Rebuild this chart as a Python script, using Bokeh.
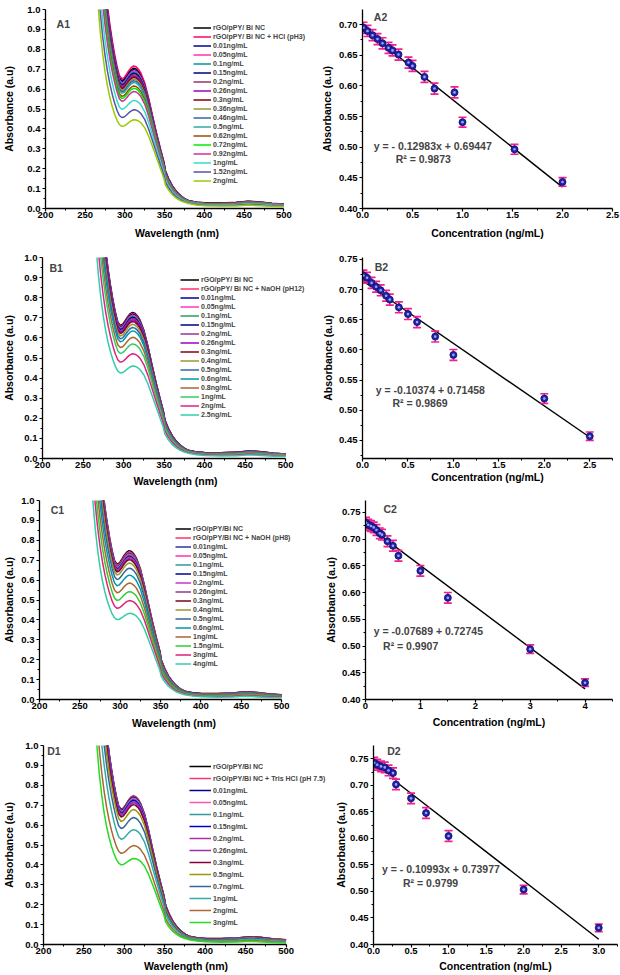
import numpy as np
from bokeh.plotting import figure
from bokeh.layouts import column, row
from bokeh.models import Legend, LegendItem, FixedTicker, NumeralTickFormatter, Range1d, Label
from bokeh.embed import file_html
from bokeh.resources import INLINE

FONT = "Liberation Sans"

# ---------------- spectra: wavelength grid and two traced reference traces (top / bottom of A1)
WL = [260, 263, 266, 269, 272, 275, 278, 281, 284, 287, 290, 293, 296, 299, 302, 305, 308, 311, 314,
      317, 320, 325, 330, 335, 340, 345, 349, 351, 355, 360, 365, 370, 375, 380, 390, 400, 420, 440,
      455, 470, 485, 500]
TRACE_HI = [2.0, 1.78, 1.58, 1.40, 1.25, 1.13, 1.02, 0.925, 0.845, 0.775, 0.715, 0.668, 0.652, 0.658,
            0.675, 0.694, 0.709, 0.716, 0.712, 0.700, 0.681, 0.630, 0.552, 0.462, 0.375, 0.295, 0.235,
            0.190, 0.150, 0.112, 0.085, 0.065, 0.050, 0.040, 0.032, 0.029, 0.028, 0.031, 0.037, 0.033,
            0.026, 0.022]
TRACE_LO = [1.45, 1.22, 1.03, 0.885, 0.775, 0.685, 0.615, 0.558, 0.512, 0.474, 0.443, 0.422, 0.413,
            0.415, 0.423, 0.433, 0.441, 0.446, 0.445, 0.440, 0.431, 0.405, 0.362, 0.308, 0.252, 0.196,
            0.152, 0.118, 0.092, 0.068, 0.051, 0.039, 0.031, 0.025, 0.018, 0.014, 0.012, 0.013, 0.017,
            0.014, 0.011, 0.010]
PEAK_HI = 0.716
PEAK_LO = 0.446

# ---------------- Panel A
A1_labels = ["rGO/pPY/ Bi NC", "rGO/pPY/ Bi NC + HCl (pH3)", "0.01ng/mL", "0.05ng/mL", "0.1ng/mL",
             "0.15ng/mL", "0.2ng/mL", "0.26ng/mL", "0.3ng/mL", "0.36ng/mL", "0.46ng/mL", "0.5ng/mL",
             "0.62ng/mL", "0.72ng/mL", "0.92ng/mL", "1ng/mL", "1.52ng/mL", "2ng/mL"]
A1_peaks = [0.705, 0.716, 0.698, 0.692, 0.686, 0.680, 0.673, 0.666, 0.659, 0.651, 0.642, 0.633,
            0.616, 0.604, 0.588, 0.543, 0.496, 0.446]
A1_colors = ["#000000", "#FF0066", "#0000A0", "#FF33AA", "#009999", "#000080", "#993366", "#9900CC",
             "#800000", "#999933", "#3366AA", "#33AAAA", "#994C00", "#00EE00", "#CC3399", "#33DDCC",
             "#5555AA", "#99CC00"]
A2_conc = [0.01, 0.05, 0.1, 0.15, 0.2, 0.26, 0.3, 0.36, 0.46, 0.5, 0.62, 0.72, 0.92, 1.0, 1.52, 2.0]
A2_abs = [0.6947, 0.6895, 0.6826, 0.6763, 0.6694, 0.662, 0.6578, 0.651, 0.638, 0.6325, 0.6146,
          0.5956, 0.5893, 0.5408, 0.4965, 0.4433]
A2_err = [0.009, 0.009, 0.009, 0.009, 0.009, 0.009, 0.009, 0.009, 0.009, 0.009, 0.009, 0.009,
          0.009, 0.008, 0.008, 0.007]
A2_fit = (-0.12983, 0.69447, 0.0, 2.0)

# ---------------- Panel B
B1_labels = ["rGO/pPY/ Bi NC", "rGO/pPY/ Bi NC + NaOH (pH12)", "0.01ng/mL", "0.05ng/mL", "0.1ng/mL",
             "0.15ng/mL", "0.2ng/mL", "0.26ng/mL", "0.3ng/mL", "0.4ng/mL", "0.5ng/mL", "0.6ng/mL",
             "0.8ng/mL", "1ng/mL", "2ng/mL", "2.5ng/mL"]
B1_peaks = [0.727, 0.722, 0.718, 0.713, 0.708, 0.703, 0.697, 0.690, 0.682, 0.668, 0.652, 0.635,
            0.603, 0.570, 0.521, 0.460]
B1_colors = ["#000000", "#FF3366", "#000099", "#FF33CC", "#339966", "#000080", "#993399", "#9900CC",
             "#800020", "#999933", "#3366AA", "#0099AA", "#AA6633", "#33CC66", "#DD2288", "#33CCAA"]
B2_conc = [0.01, 0.05, 0.1, 0.15, 0.2, 0.26, 0.3, 0.4, 0.5, 0.6, 0.8, 1.0, 2.0, 2.5]
B2_abs = [0.7234, 0.7196, 0.7111, 0.7047, 0.6988, 0.6898, 0.6834, 0.6706, 0.6594, 0.6461, 0.6221,
          0.5917, 0.5193, 0.4569]
B2_err = [0.009, 0.009, 0.009, 0.009, 0.009, 0.009, 0.009, 0.009, 0.009, 0.009, 0.009, 0.009,
          0.008, 0.007]
B2_fit = (-0.10374, 0.71458, 0.0, 2.5)

# ---------------- Panel C
C1_labels = ["rGO/pPY/Bi NC", "rGO/pPY/Bi NC + NaOH (pH8)", "0.01ng/mL", "0.05ng/mL", "0.1ng/mL",
             "0.15ng/mL", "0.2ng/mL", "0.26ng/mL", "0.3ng/mL", "0.4ng/mL", "0.5ng/mL", "0.6ng/mL",
             "1ng/mL", "1.5ng/mL", "3ng/mL", "4ng/mL"]
C1_peaks = [0.748, 0.742, 0.735, 0.730, 0.725, 0.720, 0.715, 0.710, 0.703, 0.686, 0.660, 0.625,
            0.585, 0.542, 0.497, 0.433]
C1_colors = ["#000000", "#FF3366", "#333399", "#FF33AA", "#339999", "#000099", "#CC33CC", "#993399",
             "#800020", "#999933", "#336699", "#0099AA", "#AA6633", "#33CC33", "#DD2277", "#33CCAA"]
C2_conc = [0.01, 0.05, 0.1, 0.15, 0.2, 0.26, 0.3, 0.4, 0.5, 0.6, 1.0, 1.5, 3.0, 4.0]
C2_abs = [0.7303, 0.7266, 0.7242, 0.7217, 0.7168, 0.7106, 0.7082, 0.6959, 0.6873, 0.6688, 0.6405,
          0.590, 0.4941, 0.4314]
C2_err = [0.010, 0.010, 0.010, 0.010, 0.010, 0.010, 0.010, 0.010, 0.010, 0.010, 0.010, 0.010,
          0.008, 0.007]
C2_fit = (-0.07689, 0.72745, 0.0, 4.0)

# ---------------- Panel D
D1_labels = ["rGO/pPY/Bi NC", "rGO/pPY/Bi NC + Tris HCl (pH 7.5)", "0.01ng/mL", "0.05ng/mL",
             "0.1ng/mL", "0.15ng/mL", "0.2ng/mL", "0.26ng/mL", "0.3ng/mL", "0.5ng/mL", "0.7ng/mL",
             "1ng/mL", "2ng/mL", "3ng/mL"]
D1_peaks = [0.747, 0.745, 0.740, 0.735, 0.730, 0.725, 0.718, 0.712, 0.703, 0.678, 0.638, 0.577,
            0.497, 0.432]
D1_colors = ["#000000", "#FF3377", "#000099", "#FF55BB", "#339999", "#0000CC", "#AA33AA", "#9933AA",
             "#800040", "#999900", "#336699", "#33AAAA", "#AA6633", "#22DD22"]
D2_conc = [0.01, 0.05, 0.1, 0.15, 0.2, 0.26, 0.3, 0.5, 0.7, 1.0, 2.0, 3.0]
D2_abs = [0.7425, 0.7387, 0.7356, 0.7337, 0.728, 0.723, 0.7017, 0.6754, 0.6478, 0.6045, 0.5035,
          0.4314]
D2_err = [0.010, 0.010, 0.010, 0.010, 0.010, 0.010, 0.010, 0.010, 0.010, 0.010, 0.008, 0.007]
D2_fit = (-0.10993, 0.73977, 0.3, 3.0)

PINK = "#F0208C"
NAVY = "#1E22A8"


def style_axes(p, xt, xm, yt, ym, xfmt, yfmt, xlabel, ylabel, xstand, ystand):
    p.xaxis.ticker = FixedTicker(ticks=xt, minor_ticks=xm)
    p.yaxis.ticker = FixedTicker(ticks=yt, minor_ticks=ym)
    p.xaxis.formatter = NumeralTickFormatter(format=xfmt)
    p.yaxis.formatter = NumeralTickFormatter(format=yfmt)
    p.xaxis.axis_label = xlabel
    p.yaxis.axis_label = ylabel
    p.xaxis.axis_label_standoff = xstand
    p.yaxis.axis_label_standoff = ystand
    p.xaxis.major_label_standoff = 0
    p.yaxis.major_label_standoff = 2
    for ax in (p.xaxis, p.yaxis):
        ax.axis_line_width = 1.3
        ax.axis_line_color = "black"
        ax.major_tick_line_width = 1.2
        ax.minor_tick_line_width = 1.0
        ax.major_tick_out = 3
        ax.major_tick_in = 0
        ax.minor_tick_out = 2
        ax.minor_tick_in = 0
        ax.major_label_text_font = FONT
        ax.major_label_text_font_style = "bold"
        ax.major_label_text_font_size = "9.5px"
        ax.major_label_text_color = "black"
        ax.axis_label_text_font = FONT
        ax.axis_label_text_font_style = "bold"
        ax.axis_label_text_font_size = "10.5px"
        ax.axis_label_text_color = "black"
    p.xgrid.visible = False
    p.ygrid.visible = False
    p.outline_line_color = None


def make_fig(w, h, xr, yr, bl, br, bt, bb):
    p = figure(width=w, height=h, x_range=Range1d(*xr), y_range=Range1d(*yr),
               output_backend="svg", toolbar_location=None, min_border=0,
               min_border_left=bl, min_border_right=br, min_border_top=bt, min_border_bottom=bb)
    p.background_fill_color = "white"
    p.border_fill_color = "white"
    return p


def spectra_panel(w, h, borders, xmax, labels, peaks, colors, tag, tag_xy, leg_loc, leg_h, leg_gw,
                  ystand, xstand):
    # frame is widened to the right so the legend text is not clipped; axis stays 200-500
    p = make_fig(w, h, (200, xmax), (0, 1.0), *borders)
    hi = np.array(TRACE_HI)
    lo = np.array(TRACE_LO)
    items = []
    for lab, pk, col in zip(labels, peaks, colors):
        t = (pk - PEAK_LO) / (PEAK_HI - PEAK_LO)
        yv = lo + t * (hi - lo)
        r = p.line(WL, yv, line_color=col, line_width=1.5)
        items.append(LegendItem(label=lab, renderers=[r]))
    leg = Legend(items=items, location=leg_loc, glyph_width=leg_gw, glyph_height=leg_h,
                 label_height=leg_h, spacing=0, padding=0, margin=0, label_standoff=2,
                 label_text_font=FONT, label_text_font_style="bold", label_text_font_size="7px",
                 border_line_alpha=0, background_fill_alpha=0)
    p.add_layout(leg)
    style_axes(p, [200, 250, 300, 350, 400, 450, 500], [225, 275, 325, 375, 425, 475],
               [0.0, 0.1, 0.2, 0.3, 0.4, 0.5, 0.6, 0.7, 0.8, 0.9, 1.0],
               [0.05, 0.15, 0.25, 0.35, 0.45, 0.55, 0.65, 0.75, 0.85, 0.95],
               "0", "0.0", "Wavelength (nm)", "Absorbance (a.u)", xstand, ystand)
    p.xaxis.bounds = (200, 500)
    p.add_layout(Label(x=tag_xy[0], y=tag_xy[1], text=tag, text_font=FONT, text_font_style="bold",
                       text_font_size="10.5px", text_baseline="middle", text_align="left"))
    return p


def calib_panel(w, h, borders, xr, yr, conc, absb, err, fit, tag, tag_xy, eq, eq_xy, r2, r2_xy,
                xt, xm, yt, ym, xfmt, ystand, xstand):
    p = make_fig(w, h, xr, yr, *borders)
    slope, icpt, x0, x1 = fit
    p.line([x0, x1], [slope * x0 + icpt, slope * x1 + icpt], line_color="black", line_width=1.4)
    c = np.array(conc)
    a = np.array(absb)
    e = np.array(err)
    p.segment(c, a - e, c, a + e, line_color=PINK, line_width=1.7)
    p.scatter(c, a + e, marker="dash", size=8, line_color=PINK, line_width=1.7)
    p.scatter(c, a - e, marker="dash", size=8, line_color=PINK, line_width=1.7)
    p.scatter(c, a, marker="circle", size=7, fill_color=NAVY, line_color="#10106A", line_width=0.8)
    p.scatter(c, a, marker="circle", size=2.6, fill_color="#9AA6FF", line_color=None)
    style_axes(p, xt, xm, yt, ym, xfmt, "0.00", "Concentration (ng/mL)", "Absorbance (a.u)",
               xstand, ystand)
    for txt, xy in ((tag, tag_xy), (eq, eq_xy), (r2, r2_xy)):
        p.add_layout(Label(x=xy[0], y=xy[1], text=txt, text_font=FONT, text_font_style="bold",
                           text_font_size="10.5px", text_baseline="middle", text_align="left"))
    return p


Y_MINOR = [0.425, 0.475, 0.525, 0.575, 0.625, 0.675, 0.725]

# Row A (height 243)
A1 = spectra_panel(310, 243, (41, 2, 9, 34), 531.0, A1_labels, A1_peaks, A1_colors, "A1",
                   (214, 0.925), (148, 23), 9, 18, 9, 6)
A2 = calib_panel(310, 243, (52, 8, 3, 35), (0, 2.5), (0.40, 0.7245), A2_conc, A2_abs, A2_err, A2_fit,
                 "A2", (0.113, 0.7115), "y = - 0.12983x + 0.69447", (0.113, 0.5012),
                 "R\u00b2 = 0.9873", (0.332, 0.4807),
                 [0, 0.5, 1.0, 1.5, 2.0, 2.5], [0.25, 0.75, 1.25, 1.75, 2.25],
                 [0.40, 0.45, 0.50, 0.55, 0.60, 0.65, 0.70], Y_MINOR, "0.0", 3, 6)

# Row B (height 249)
B1 = spectra_panel(310, 249, (40, 2, 14, 34), 528.2, B1_labels, B1_peaks, B1_colors, "B1",
                   (208.6, 0.949), (138, 39), 9, 19, 6, 4)
B2 = calib_panel(310, 249, (52, 8, 10, 30), (0, 2.75), (0.42, 0.7532), B2_conc, B2_abs, B2_err, B2_fit,
                 "B2", (0.135, 0.737), "y = -0.10374 + 0.71458", (0.146, 0.5342),
                 "R\u00b2 = 0.9869", (0.329, 0.5113),
                 [0, 0.5, 1.0, 1.5, 2.0, 2.5], [0.25, 0.75, 1.25, 1.75, 2.25, 2.75],
                 [0.45, 0.50, 0.55, 0.60, 0.65, 0.70, 0.75], Y_MINOR, "0.0", 2, 0)

# Row C (height 243)
C1 = spectra_panel(310, 243, (37, 2, 8, 36), 533.2, C1_labels, C1_peaks, C1_colors, "C1",
                   (213.9, 0.95), (136, 31), 9, 16, 3, 5)
C2 = calib_panel(310, 243, (55, 8, 7, 34), (0, 4.5), (0.40, 0.772), C2_conc, C2_abs, C2_err, C2_fit,
                 "C2", (0.327, 0.7555), "y = -0.07689 + 0.72745", (0.151, 0.5273),
                 "R\u00b2 = 0.9907", (0.32, 0.5009),
                 [0, 1, 2, 3, 4], [0.5, 1.5, 2.5, 3.5, 4.5],
                 [0.40, 0.45, 0.50, 0.55, 0.60, 0.65, 0.70, 0.75], Y_MINOR, "0", 2, 4)

# Row D (height 240) - left panel widened so its long legend entry fits
D1 = spectra_panel(330, 240, (39, 2, 6, 30), 552.5, D1_labels, D1_peaks, D1_colors, "D1",
                   (204.5, 0.974), (146, 16), 12, 22, 7, 3)
D2 = calib_panel(290, 240, (43, 3, 10, 31), (0, 3.25), (0.40, 0.775), D2_conc, D2_abs, D2_err, D2_fit,
                 "D2", (0.183, 0.7637), "y = - 0.10993x + 0.73977", (0.112, 0.543),
                 "R\u00b2 = 0.9799", (0.393, 0.516),
                 [0, 0.5, 1.0, 1.5, 2.0, 2.5, 3.0], [0.25, 0.75, 1.25, 1.75, 2.25, 2.75, 3.25],
                 [0.40, 0.45, 0.50, 0.55, 0.60, 0.65, 0.70, 0.75], Y_MINOR, "0.0", 0, 3)

layout = column(row(A1, A2), row(B1, B2), row(C1, C2), row(D1, D2))
open("out.html", "w").write(file_html(layout, INLINE))
